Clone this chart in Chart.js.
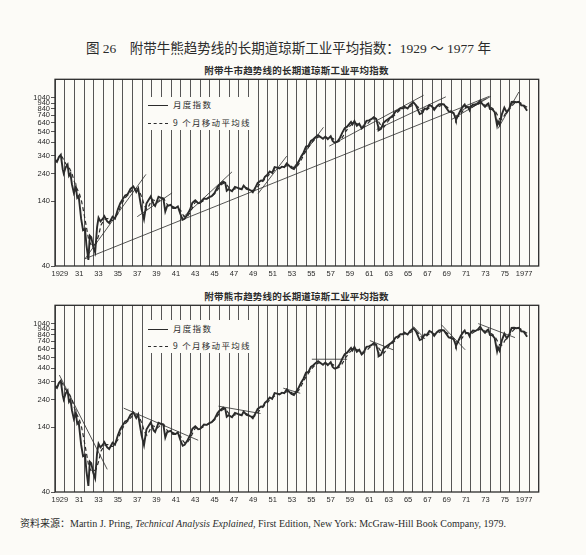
<!DOCTYPE html>
<html>
<head>
<meta charset="utf-8">
<script src="https://cdn.jsdelivr.net/npm/chart.js@4.4.0/dist/chart.umd.min.js"></script>
<style>
  body { margin: 0; width: 586px; height: 555px; overflow: hidden; position: relative;
         background: #fcfbf7; color: #2b2b2b; font-family: "Liberation Serif", "Noto Sans CJK SC", serif; }
  .title { position: absolute; left: 0; top: 37px; width: 577px; text-align: center; font-size: 13.5px; }
  .sub { position: absolute; left: 0; width: 593px; text-align: center; font-family: "Noto Sans CJK SC", sans-serif;
         font-weight: bold; font-size: 9.5px; letter-spacing: 0.2px; }
  canvas { position: absolute; left: 0; }
  .legend { position: absolute; left: 145px; width: 110px; height: 33px; background: #fcfbf7; }
  .row { position: absolute; left: 3px; height: 12px; font-family: "Noto Sans CJK SC", sans-serif; font-size: 8.5px;
         letter-spacing: 1.3px; line-height: 12px; white-space: nowrap; }
  .row span.s { display: inline-block; width: 20px; vertical-align: middle; margin-right: 5px; }
  .solid { border-top: 1.6px solid #2b2b2b; }
  .dash { border-top: 1.4px dashed #2b2b2b; }
  .note { position: absolute; left: 20px; top: 515px; font-size: 10px; white-space: nowrap; }
</style>
</head>
<body>
<div class="title">图 26　附带牛熊趋势线的长期道琼斯工业平均指数：1929 ～ 1977 年</div>

<div class="sub" style="top:63px">附带牛市趋势线的长期道琼斯工业平均指数</div>
<canvas id="bullChart" width="586" height="226" style="top:60px"></canvas>
<div class="legend" style="top:97px">
  <div class="row" style="top:1px"><span class="s solid"></span>月度指数</div>
  <div class="row" style="top:19px"><span class="s dash"></span>9 个月移动平均线</div>
</div>

<div class="sub" style="top:289px">附带熊市趋势线的长期道琼斯工业平均指数</div>
<canvas id="bearChart" width="586" height="226" style="top:286px"></canvas>
<div class="legend" style="top:320px">
  <div class="row" style="top:2px"><span class="s solid"></span>月度指数</div>
  <div class="row" style="top:19px"><span class="s dash"></span>9 个月移动平均线</div>
</div>

<div class="note">资料来源：Martin J. Pring, <i>Technical Analysis Explained</i>, First Edition, New York: McGraw-Hill Book Company, 1979.</div>

<script>
// ==============================
// DATA
// ==============================
const yTicks = [40, 140, 240, 340, 440, 540, 640, 740, 840, 940, 1040];
const labelYears = [1929, 1931, 1933, 1935, 1937, 1939, 1941, 1943, 1945, 1947, 1949, 1951, 1953,
    1955, 1957, 1959, 1961, 1963, 1965, 1967, 1969, 1971, 1973, 1975, 1977];
const labelTexts = ["1929", "31", "33", "35", "37", "39", "41", "43", "45", "47", "49", "51", "53",
    "55", "57", "59", "61", "63", "65", "67", "69", "71", "73", "75", "1977"];

// monthly index (decimal year, value)
const indexYears = [
    1929.0, 1929.2, 1929.4, 1929.6, 1929.8, 1929.9, 1930.1, 1930.3, 1930.45, 1930.6, 1930.75, 1930.95,
    1931.15, 1931.3, 1931.45, 1931.7, 1931.9, 1932.1, 1932.25, 1932.45, 1932.6, 1932.75, 1932.95,
    1933.15, 1933.35, 1933.5, 1933.7, 1933.95, 1934.1, 1934.4, 1934.6, 1934.95,
    1935.2, 1935.5, 1935.75, 1935.95, 1936.25, 1936.5, 1936.8, 1937.1, 1937.4, 1937.6, 1937.75, 1937.95,
    1938.2, 1938.45, 1938.7, 1938.9, 1939.2, 1939.35, 1939.7, 1939.95, 1940.2, 1940.4, 1940.6, 1940.95,
    1941.2, 1941.45, 1941.7, 1941.95, 1942.2, 1942.4, 1942.7, 1942.95, 1943.2, 1943.5, 1943.8, 1944.0,
    1944.4, 1944.7, 1944.95, 1945.2, 1945.5, 1945.8, 1946.0, 1946.4, 1946.6, 1946.75, 1946.95,
    1947.3, 1947.6, 1947.95, 1948.3, 1948.5, 1948.8, 1948.95, 1949.3, 1949.45, 1949.7, 1949.95,
    1950.3, 1950.5, 1950.7, 1950.95, 1951.2, 1951.45, 1951.7, 1951.95, 1952.2, 1952.45, 1952.7, 1952.95,
    1953.15, 1953.45, 1953.7, 1953.95, 1954.2, 1954.45, 1954.7, 1954.95, 1955.2, 1955.45, 1955.7, 1955.95,
    1956.2, 1956.45, 1956.7, 1956.95, 1957.2, 1957.5, 1957.7, 1957.85, 1957.95,
    1958.2, 1958.45, 1958.7, 1958.95, 1959.2, 1959.45, 1959.6, 1959.75, 1959.95,
    1960.2, 1960.45, 1960.7, 1960.85, 1960.95, 1961.2, 1961.45, 1961.7, 1961.95,
    1962.2, 1962.4, 1962.45, 1962.7, 1962.95, 1963.2, 1963.45, 1963.7, 1963.95,
    1964.2, 1964.45, 1964.7, 1964.95, 1965.1, 1965.45, 1965.7, 1965.95, 1966.05, 1966.3, 1966.45, 1966.7, 1966.95,
    1967.2, 1967.45, 1967.7, 1967.95, 1968.2, 1968.45, 1968.7, 1968.95, 1969.2, 1969.45, 1969.7, 1969.95,
    1970.2, 1970.4, 1970.45, 1970.7, 1970.95, 1971.2, 1971.35, 1971.45, 1971.7, 1971.85, 1971.95,
    1972.2, 1972.45, 1972.7, 1972.95, 1973.1, 1973.45, 1973.7, 1973.8, 1973.95,
    1974.2, 1974.45, 1974.7, 1974.8, 1974.95, 1975.2, 1975.45, 1975.7, 1975.95,
    1976.2, 1976.45, 1976.7, 1976.95, 1977.2, 1977.45, 1977.7, 1977.8
];
const indexValues = [
    310, 300, 330, 345, 260, 240, 270, 285, 230, 240, 195, 165,
    185, 150, 155, 100, 80, 82, 60, 45, 72, 70, 58,
    52, 85, 102, 95, 100, 105, 95, 92, 104,
    100, 120, 135, 144, 157, 160, 178, 187, 168, 180, 150, 120,
    99, 134, 145, 154, 132, 128, 153, 150, 148, 115, 128, 131,
    123, 123, 127, 110, 98, 100, 109, 119, 136, 143, 135, 136,
    148, 147, 152, 155, 165, 185, 193, 205, 200, 172, 177,
    170, 185, 181, 177, 190, 178, 177, 172, 167, 182, 200,
    210, 209, 225, 235, 250, 243, 272, 269, 265, 274, 271, 292,
    282, 268, 262, 281, 303, 334, 361, 404, 409, 451, 466, 488,
    505, 488, 470, 492, 468, 495, 452, 440, 436,
    446, 478, 530, 578, 595, 632, 652, 622, 665,
    606, 630, 575, 590, 608, 665, 672, 688, 715,
    692, 600, 555, 570, 640, 668, 690, 712, 742,
    800, 815, 850, 850, 880, 845, 905, 940, 955, 905, 850, 760, 775,
    845, 840, 905, 885, 825, 880, 915, 925, 915, 855, 800, 790,
    775, 700, 680, 750, 825, 885, 915, 875, 870, 820, 870,
    915, 905, 930, 985, 940, 875, 925, 935, 840,
    835, 790, 610, 660, 620, 760, 860, 785, 840,
    960, 965, 955, 965, 900, 895, 835, 810
];

// 9-month moving average (quarterly readings)
const maYears = [
    1929.0, 1929.5, 1929.75, 1930.0, 1930.25, 1930.5, 1930.75, 1931.0, 1931.25, 1931.5, 1931.75,
    1932.0, 1932.25, 1932.5, 1932.75, 1933.0, 1933.25, 1933.5, 1933.75, 1934.0, 1934.25, 1934.5, 1934.75,
    1935.0, 1935.25, 1935.5, 1935.75, 1936.0, 1936.25, 1936.5, 1936.75, 1937.0, 1937.25, 1937.5, 1937.75,
    1938.0, 1938.25, 1938.5, 1938.75, 1939.0, 1939.25, 1939.5, 1939.75, 1940.0, 1940.25, 1940.5, 1940.75,
    1941.0, 1941.25, 1941.5, 1941.75, 1942.0, 1942.25, 1942.5, 1942.75, 1943.0, 1943.25, 1943.5, 1943.75,
    1944.0, 1944.25, 1944.5, 1944.75, 1945.0, 1945.25, 1945.5, 1945.75, 1946.0, 1946.25, 1946.5, 1946.75,
    1947.0, 1947.25, 1947.5, 1947.75, 1948.0, 1948.25, 1948.5, 1948.75, 1949.0, 1949.25, 1949.5, 1949.75,
    1950.0, 1950.25, 1950.5, 1950.75, 1951.0, 1951.25, 1951.5, 1951.75, 1952.0, 1952.25, 1952.5, 1952.75,
    1953.0, 1953.25, 1953.5, 1953.75, 1954.0, 1954.25, 1954.5, 1954.75, 1955.0, 1955.25, 1955.5, 1955.75,
    1956.0, 1956.25, 1956.5, 1956.75, 1957.0, 1957.25, 1957.5, 1957.75, 1958.0, 1958.25, 1958.5, 1958.75,
    1959.0, 1959.25, 1959.5, 1959.75, 1960.0, 1960.25, 1960.5, 1960.75, 1961.0, 1961.25, 1961.5, 1961.75,
    1962.0, 1962.25, 1962.5, 1962.75, 1963.0, 1963.25, 1963.5, 1963.75, 1964.0, 1964.25, 1964.5, 1964.75,
    1965.0, 1965.25, 1965.5, 1965.75, 1966.0, 1966.25, 1966.5, 1966.75, 1967.0, 1967.25, 1967.5, 1967.75,
    1968.0, 1968.25, 1968.5, 1968.75, 1969.0, 1969.25, 1969.5, 1969.75, 1970.0, 1970.25, 1970.5, 1970.75,
    1971.0, 1971.25, 1971.5, 1971.75, 1972.0, 1972.25, 1972.5, 1972.75, 1973.0, 1973.25, 1973.5, 1973.75,
    1974.0, 1974.25, 1974.5, 1974.75, 1975.0, 1975.25, 1975.5, 1975.75, 1976.0, 1976.25, 1976.5, 1976.75,
    1977.0, 1977.25, 1977.5, 1977.8
];
const maValues = [
    305, 320, 330, 300, 280, 265, 240, 205, 180, 165, 140,
    110, 85, 65, 60, 60, 62, 72, 88, 96, 100, 100, 97,
    97, 103, 110, 125, 138, 150, 157, 165, 175, 180, 178, 168,
    150, 128, 120, 130, 145, 143, 137, 142, 149, 148, 135, 128,
    128, 126, 123, 122, 117, 107, 102, 106, 114, 126, 138, 140,
    138, 140, 145, 148, 152, 156, 162, 172, 185, 195, 200, 193,
    182, 176, 177, 180, 179, 178, 182, 183, 179, 175, 172, 177,
    188, 200, 208, 217, 228, 242, 249, 259, 266, 268, 271, 275,
    280, 281, 274, 268, 274, 292, 318, 348, 378, 405, 430, 456,
    475, 488, 490, 485, 480, 478, 480, 472, 452, 443, 455, 490,
    535, 570, 605, 628, 635, 628, 615, 600, 600, 622, 655, 680,
    697, 690, 645, 598, 590, 628, 675, 700, 730, 765, 798, 828,
    848, 860, 865, 880, 905, 910, 878, 825, 790, 798, 832, 865,
    870, 852, 858, 885, 905, 900, 875, 838, 800, 770, 732, 728,
    772, 828, 865, 865, 856, 880, 908, 922, 942, 932, 898, 885,
    870, 845, 805, 740, 685, 688, 752, 808, 838, 895, 940, 958,
    955, 930, 898, 865
];

// trendlines: [year1, value1, year2, value2]
const bullLines = [
    [1932.10, 46, 1973.9, 1072],
    [1932.10, 46, 1938.4, 236],
    [1937.5, 104, 1941.1, 165],
    [1941.9, 97, 1947.3, 248],
    [1950.0, 163, 1952.95, 336],
    [1953.6, 265, 1956.75, 588],
    [1957.35, 408, 1967.1, 1093],
    [1962.25, 564, 1969.4, 1061],
    [1970.0, 684, 1974.05, 1072],
    [1970.9, 808, 1973.6, 1029],
    [1974.8, 574, 1976.95, 1165]
];
const bearLines = [
    [1929.45, 386, 1934.4, 62],
    [1936.1, 203, 1943.8, 109],
    [1945.9, 211, 1950.25, 183],
    [1952.6, 299, 1954.35, 271],
    [1955.55, 524, 1959.2, 524],
    [1961.55, 752, 1963.95, 629],
    [1966.05, 988, 1967.25, 776],
    [1968.95, 1021, 1971.4, 629],
    [1972.75, 1045, 1976.55, 797]
];

// ==============================
// CHART BUILDER
// ==============================
const ink = "#2b2b2b";
const gridYears = [];
for (let y = 1929; y <= 1978; y++) gridYears.push(y);

const framePlugin = {
    id: "frame",
    afterDraw(chart) {
        const a = chart.chartArea, ctx = chart.ctx;
        ctx.save();
        ctx.strokeStyle = ink;
        ctx.lineWidth = 1.3;
        ctx.strokeRect(a.left, a.top, a.right - a.left, a.bottom - a.top);
        ctx.restore();
    }
};

function makeChart(id, lines) {
    const datasets = [
        {
            data: indexYears.map((x, i) => ({ x, y: indexValues[i] })),
            borderColor: ink, borderWidth: 1.9, pointRadius: 0, tension: 0
        },
        {
            data: maYears.map((x, i) => ({ x, y: maValues[i] })),
            borderColor: ink, borderWidth: 1.2, borderDash: [4, 3], pointRadius: 0, tension: 0
        }
    ];
    lines.forEach(l => datasets.push({
        data: [{ x: l[0], y: l[1] }, { x: l[2], y: l[3] }],
        borderColor: ink, borderWidth: 0.8, pointRadius: 0
    }));

    return new Chart(document.getElementById(id), {
        type: "line",
        data: { datasets },
        plugins: [framePlugin],
        options: {
            responsive: false,
            animation: false,
            layout: { padding: { top: 19.3, right: 47.3, left: 0, bottom: 0 } },
            plugins: { legend: { display: false }, tooltip: { enabled: false } },
            scales: {
                x: {
                    type: "linear", min: 1929, max: 1979,
                    afterBuildTicks: axis => { axis.ticks = gridYears.map(v => ({ value: v })); },
                    afterFit: axis => { axis.height = 20; },
                    grid: { color: ink, lineWidth: 0.8, drawTicks: false },
                    border: { display: false },
                    ticks: {
                        autoSkip: false, maxRotation: 0, padding: 3, labelOffset: 4.8,
                        color: ink, font: { family: "Liberation Sans", size: 7.5 },
                        callback: v => {
                            const i = labelYears.indexOf(v);
                            return i >= 0 ? labelTexts[i] : "";
                        }
                    }
                },
                y: {
                    type: "logarithmic", min: 40, max: 1490,
                    afterBuildTicks: axis => { axis.ticks = yTicks.map(v => ({ value: v })); },
                    afterFit: axis => { axis.width = 55; },
                    grid: { drawOnChartArea: false, color: ink, tickLength: 4, lineWidth: 0.8 },
                    border: { display: false },
                    ticks: {
                        autoSkip: false, padding: 1, color: ink,
                        font: { family: "Liberation Sans", size: 7.5 },
                        callback: v => String(v)
                    }
                }
            }
        }
    });
}

document.addEventListener("DOMContentLoaded", () => {
    makeChart("bullChart", bullLines);
    makeChart("bearChart", bearLines);
});
</script>
</body>
</html>
